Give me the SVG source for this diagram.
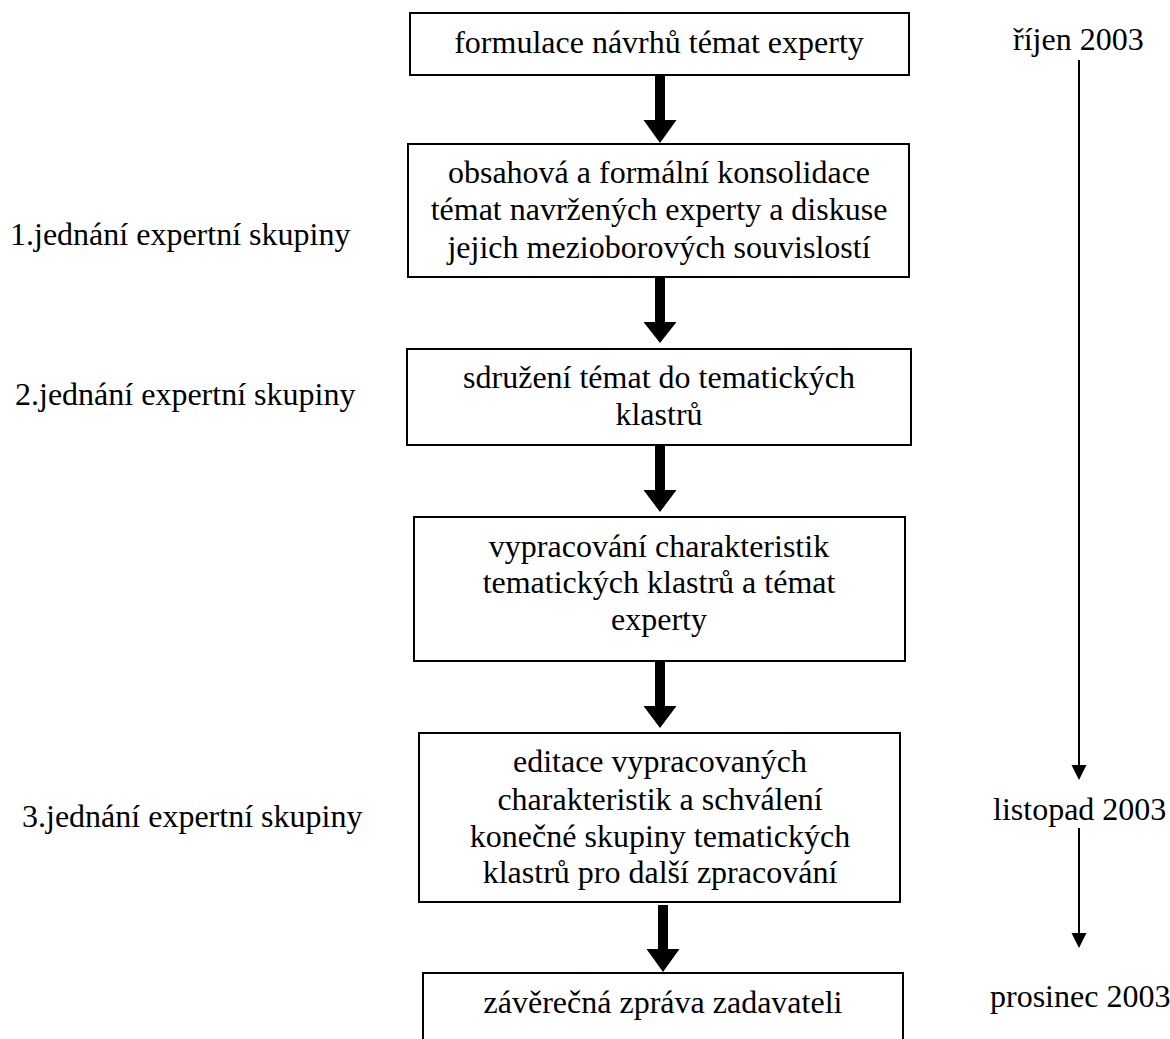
<svg xmlns="http://www.w3.org/2000/svg" width="1170" height="1039" viewBox="0 0 1170 1039">
<defs>
<style>
text{font-family:"Liberation Serif","Times New Roman",serif;font-size:32px;fill:#000}
.c{text-anchor:middle}
.box{fill:#fff;stroke:#000;stroke-width:2}
.thin{stroke:#000;stroke-width:2;fill:none}
</style>
</defs>
<rect width="1170" height="1039" fill="#fff"/>
<g id="n1"><rect class="box" x="410" y="13" width="499" height="62"/><text class="c" x="659" y="53">formulace návrhů témat experty</text></g>
<g id="n2"><rect class="box" x="408" y="144" width="501" height="133"/><text class="c" x="659" y="183">obsahová a formální konsolidace</text><text class="c" x="659" y="220">témat navržených experty a diskuse</text><text class="c" x="659" y="258">jejich mezioborových souvislostí</text></g>
<g id="n3"><rect class="box" x="407" y="349" width="504" height="96"/><text class="c" x="659" y="388">sdružení témat do tematických</text><text class="c" x="659" y="425">klastrů</text></g>
<g id="n4"><rect class="box" x="414" y="517" width="491" height="144"/><text class="c" x="659" y="557">vypracování charakteristik</text><text class="c" x="659" y="593">tematických klastrů a témat</text><text class="c" x="659" y="630">experty</text></g>
<g id="n5"><rect class="box" x="419" y="733" width="481" height="169"/><text class="c" x="660" y="772">editace vypracovaných</text><text class="c" x="660" y="810">charakteristik a schválení</text><text class="c" x="660" y="847">konečné skupiny tematických</text><text class="c" x="660" y="883">klastrů pro další zpracování</text></g>
<g id="n6"><rect class="box" x="423" y="973" width="480" height="90"/><text class="c" x="663" y="1013">závěrečná zpráva zadavateli</text></g>
<g id="labels">
<text x="10" y="245">1.jednání expertní skupiny</text>
<text x="15" y="405">2.jednání expertní skupiny</text>
<text x="22" y="827">3.jednání expertní skupiny</text>
<text x="1013" y="50">říjen 2003</text>
<text x="993" y="820">listopad 2003</text>
<text x="990" y="1007">prosinec 2003</text>
</g>
<g id="connectors">
<path d="M655,75 h10 v45 h11.5 L660,143 L643.5,120 h11.5 z" fill="#000"/>
<path d="M655,277 h10 v45 h11.5 L660,343 L643.5,322 h11.5 z" fill="#000"/>
<path d="M655,445 h10 v45 h11.5 L660,512 L643.5,490 h11.5 z" fill="#000"/>
<path d="M655,661 h10 v45 h11.5 L660,728 L643.5,706 h11.5 z" fill="#000"/>
<path d="M658,905 h10 v44 h11.5 L663,972 L646.5,949 h11.5 z" fill="#000"/>
<line class="thin" x1="1079" y1="60" x2="1079" y2="766"/>
<path d="M1071.5,765 h15 L1079,780 z" fill="#000"/>
<line class="thin" x1="1079" y1="828" x2="1079" y2="934"/>
<path d="M1071.5,933 h15 L1079,948 z" fill="#000"/>
</g>
</svg>
